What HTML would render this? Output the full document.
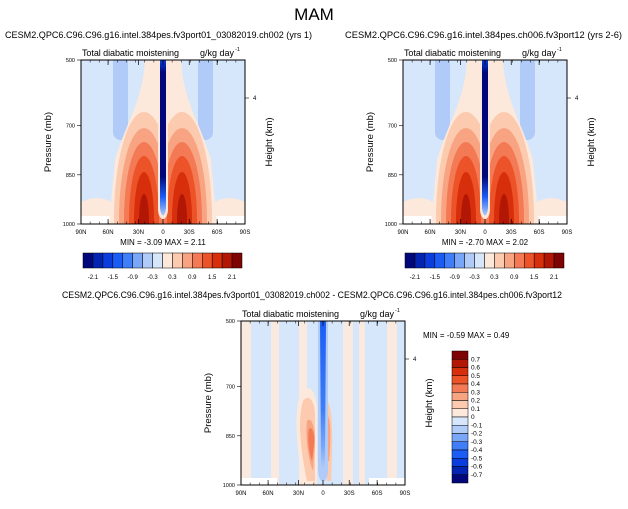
<!DOCTYPE html>
<html><head><meta charset="utf-8"><style>
body{margin:0;background:#fff}
svg text{font-family:"Liberation Sans",sans-serif;fill:#000}
</style></head><body>
<svg id="c" width="628" height="504" viewBox="0 0 628 504" xmlns="http://www.w3.org/2000/svg">
<defs>
<linearGradient id="colg" x1="0" y1="0" x2="0" y2="1">
<stop offset="0" stop-color="#0a3ddc"/><stop offset="0.08" stop-color="#02087a"/><stop offset="0.75" stop-color="#02087a"/><stop offset="0.88" stop-color="#1b5cf5"/><stop offset="1" stop-color="#b0cbf8"/></linearGradient>
<linearGradient id="colg2" x1="0" y1="0" x2="0" y2="1">
<stop offset="0" stop-color="#1b5cf5"/><stop offset="0.6" stop-color="#3f7ef7"/><stop offset="0.85" stop-color="#7aa6f7"/><stop offset="1" stop-color="#b0cbf8"/></linearGradient>
</defs>
<text x="314" y="20" font-size="17" text-anchor="middle">MAM</text>
</svg>
<script>
const levelsTop=["-2.1","-1.5","-0.9","-0.3","0.3","0.9","1.5","2.1"];
const levelsDiff=["0.7","0.6","0.5","0.4","0.3","0.2","0.1","0","-0.1","-0.2","-0.3","-0.4","-0.5","-0.6","-0.7"];
const colors=["#02087a","#0324b0","#0a3ddc","#1b5cf5","#3f7ef7","#7aa6f7","#b0cbf8","#d6e6fb","#fde9dc","#fccaae","#f8a482","#f37a55","#ec5329","#d72e0b","#b21705","#7d0402"];
const latTicks=["90N","60N","30N","0","30S","60S","90S"];
const latTickFrac=[0,0.165,0.35,0.5,0.66,0.83,1];
const presTicks=["500","700","850","1000"];
const presFrac=[0,0.4,0.7,1];
const minmax=[["-3.09","2.11"],["-2.70","2.02"],["-0.59","0.49"]];
const NS="http://www.w3.org/2000/svg";
const svg=document.getElementById('c');
function el(t,a,p){const e=document.createElementNS(NS,t);for(const k in a)e.setAttribute(k,a[k]);(p||svg).appendChild(e);return e;}
function txt(s,a,p){const e=el('text',a,p);e.textContent=s;return e;}

function panel(x0,y0,kind,title,tx,tw,ty){
  const W=164,H=164;
  const mm=minmax[kind==='a'?0:kind==='b'?1:2];
  const g=el('g',{transform:`translate(${x0},${y0})`});
  
  
  const clip=el('clipPath',{id:'cl'+kind},g);el('rect',{x:0,y:0,width:W,height:H},clip);
  const f=el('g',{'clip-path':`url(#cl${kind})`},g);
  el('rect',{x:0,y:0,width:W,height:H,fill:colors[7]},f);
  if(kind!=='diff'){
    el('rect',{x:32,y:-10,width:15,height:90,rx:8,fill:colors[6]},f);
    el('rect',{x:117,y:-10,width:15,height:90,rx:8,fill:colors[6]},f);
    el('path',{d:'M0,142 C15,135 30,137 40,152 L40,164 L0,164Z',fill:colors[8]},f);
    el('path',{d:'M164,142 C149,135 134,137 124,152 L124,164 L164,164Z',fill:colors[8]},f);
    el('rect',{x:0,y:156,width:36,height:10,fill:'#fff'},f);
    el('rect',{x:128,y:156,width:40,height:10,fill:'#fff'},f);
    el('path',{d:'M64,0 C62,40 46,60 34,100 L28,164 L136,164 L130,100 C118,60 102,40 100,0Z',fill:colors[8]},f);
    const rx=[30,25,20,15,10,5],ry=[108,92,78,64,48,26];
    for(let i=0;i<6;i++){
      const c=colors[9+i];
      el('ellipse',{cx:63,cy:160,rx:rx[i],ry:ry[i],fill:c},f);
      el('ellipse',{cx:101,cy:160,rx:rx[i],ry:ry[i],fill:c},f);
    }
    el('path',{d:'M77,0 L87,0 L87,150 C86,162 78,162 77,150Z',fill:colors[8]},f);
    el('path',{d:'M79,0 L85,0 L85,148 C84,158 80,158 79,148Z',fill:'url(#colg)'},f);
  } else {
    [[0,10],[30,38],[58,66],[102,112],[118,124],[146,156]].forEach(s=>el('rect',{x:s[0],y:0,width:s[1]-s[0],height:H,fill:colors[8],opacity:0.9},f));
    el('path',{d:'M60,70 C68,62 76,70 76,90 L76,164 L62,164 C56,130 52,90 60,70Z',fill:colors[8]},f);
    el('path',{d:'M62,80 C68,72 75,80 74,100 L74,160 L66,160 C60,130 56,100 62,80Z',fill:colors[9]},f);
    el('path',{d:'M66,100 C70,95 74,105 74,120 L72,150 C68,140 64,120 66,100Z',fill:colors[10]},f);
    el('path',{d:'M68,108 C71,105 74,112 73,124 L71,140 C68,132 66,118 68,108Z',fill:colors[11]},f);
    el('path',{d:'M86,80 C92,85 92,120 90,160 L86,160Z',fill:colors[9]},f);
    el('path',{d:'M87,95 C90,100 90,120 88,140 L86,140Z',fill:colors[10]},f);
    el('path',{d:'M77,0 L87,0 L87,150 C86,164 78,164 77,150Z',fill:colors[6]},f);
    el('path',{d:'M79,0 L85,0 L84,140 C83,150 81,150 80,140Z',fill:'url(#colg2)'},f);
    el('rect',{x:0,y:157,width:36,height:10,fill:'#fff'},f);
    el('rect',{x:128,y:157,width:40,height:10,fill:'#fff'},f);
  }
  el('rect',{x:0,y:0,width:W,height:H,fill:'none',stroke:'#000','stroke-width':1},g);
  for(let i=0;i<=18;i++){const x=i*W/18;
    el('line',{x1:x,y1:0,x2:x,y2:2.5,stroke:'#000','stroke-width':0.5},g);
    el('line',{x1:x,y1:H,x2:x,y2:H-2.5,stroke:'#000','stroke-width':0.5},g);}
  latTicks.forEach((t,i)=>{const x=latTickFrac[i]*W;
    el('line',{x1:x,y1:H,x2:x,y2:H-5,stroke:'#000','stroke-width':0.7},g);
    el('line',{x1:x,y1:0,x2:x,y2:5,stroke:'#000','stroke-width':0.7},g);
    const e=txt(t,{x:x,y:H+10,'font-size':6,'text-anchor':'middle'},g);
    });
  presTicks.forEach((t,i)=>{const y=presFrac[i]*H;
    el('line',{x1:-4,y1:y,x2:0,y2:y,stroke:'#000','stroke-width':0.6},g);
    const e=txt(t,{x:-6,y:y+2,'font-size':5.5,'text-anchor':'end'},g);
    });
  el('line',{x1:W,y1:38,x2:W+4,y2:38,stroke:'#000','stroke-width':0.6},g);
  txt('4',{x:W+8,y:40,'font-size':6},g);
  const yl=txt('Pressure (mb)',{transform:`translate(-30,${H/2}) rotate(-90)`,'font-size':9.5,'text-anchor':'middle'},g);
  
  const hl=txt('Height (km)',{transform:`translate(${W+27},${H/2}) rotate(-90)`,'font-size':9.5,'text-anchor':'middle'},g);
  
  txt('Total diabatic moistening',{x:1,y:-4,'font-size':9,textLength:97},g);
  txt('g/kg day',{x:W-28,y:-4,'font-size':9,'text-anchor':'middle'},g);
  txt('-1',{x:W-10,y:-9,'font-size':5.5},g);
  const tt=txt(title,{x:tx-x0,y:ty,'font-size':9,textLength:tw,lengthAdjust:'spacingAndGlyphs'},g);
  
  if(kind!=='diff'){
    const m=txt(`MIN =  ${mm[0]}  MAX =   ${mm[1]}`,{x:W/2,y:H+21,'font-size':8,'text-anchor':'middle'},g);
    
    const cb=el('g',{},g);
    
    const bw=(W-5)/16;
    colors.forEach((c,i)=>el('rect',{x:2+i*bw,y:H+29,width:bw,height:15,fill:c,stroke:'#000','stroke-width':0.5},cb));
    levelsTop.forEach((l,i)=>txt(l,{x:2+(1+i*2)*bw,y:H+55,'font-size':6,'text-anchor':'middle'},cb));
  } else {
    const m=txt(`MIN =  ${mm[0]}  MAX =   ${mm[1]}`,{x:W+18,y:17,'font-size':8},g);
    
    const cb=el('g',{},g);
    
    const bh=132/16;
    colors.slice().reverse().forEach((c,i)=>el('rect',{x:211,y:30+i*bh,width:16,height:bh,fill:c,stroke:'#000','stroke-width':0.5},cb));
    levelsDiff.forEach((l,i)=>txt(l,{x:230,y:30+(i+1)*bh+2,'font-size':6.5},cb));
  }
}
panel(81,60,'a','CESM2.QPC6.C96.C96.g16.intel.384pes.fv3port01_03082019.ch002 (yrs 1)',5,307,-22);
panel(403,60,'b','CESM2.QPC6.C96.C96.g16.intel.384pes.ch006.fv3port12 (yrs 2-6)',345,277,-22);
panel(241,321,'diff','CESM2.QPC6.C96.C96.g16.intel.384pes.fv3port01_03082019.ch002 - CESM2.QPC6.C96.C96.g16.intel.384pes.ch006.fv3port12',62,500,-23);
</script>
</body></html>
